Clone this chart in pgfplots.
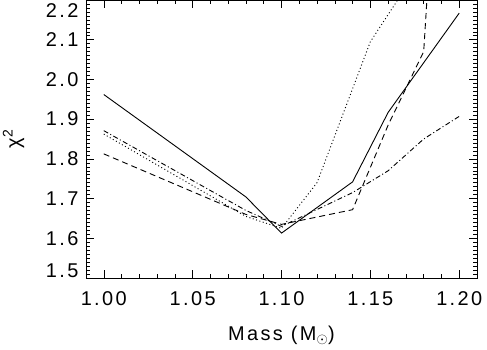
\documentclass[border=0pt]{standalone}
\usepackage{fontspec}
\setmainfont{Liberation Sans}[LetterSpace=12]
\usepackage{pgfplots}
\pgfplotsset{compat=1.18}

\begin{document}
\begin{tikzpicture}
\begin{axis}[
  scale only axis,
  width=391bp, height=278bp,
  xmin=0.99, xmax=1.21,
  ymin=1.5, ymax=2.2,
  xtick={1.00,1.05,1.10,1.15,1.20},
  ytick={1.5,1.6,1.7,1.8,1.9,2.0,2.1,2.2},
  minor x tick num=4,
  minor y tick num=9,
  tick align=inside,
  major tick length=8bp,
  minor tick length=4bp,
  every tick/.style={black, line width=0.5bp},
  axis line style={line width=0.8bp},
  font=\fontsize{20}{22}\selectfont,
  /pgf/number format/assume math mode=true,
  xticklabel={\pgfmathprintnumber[fixed,fixed zerofill,precision=2]{\tick}},
  yticklabel={\pgfmathprintnumber[fixed,fixed zerofill,precision=1]{\tick}},
  xticklabel style={yshift=-10bp},
  yticklabel style={xshift=-4bp, yshift={ifthenelse(\ticknum==0,7,ifthenelse(\ticknum==7,-11,0))}},
  xlabel={Mass (M$_\odot$)},
  xlabel style={yshift=-14bp},
  ylabel={χ\textsuperscript{2}},
  ylabel style={yshift=15bp},
  every axis plot/.append style={black, line width=0.9bp, no markers},
]
% solid
\addplot[solid] coordinates {
  (1.00,1.962) (1.08,1.704) (1.10,1.613) (1.14,1.742) (1.16,1.917) (1.20,2.167)
};
% dashed
\addplot[dash pattern=on 6bp off 4bp] coordinates {
  (1.00,1.8125) (1.08,1.660) (1.10,1.635) (1.14,1.672) (1.16,1.885) (1.18,2.070) (1.20,3.500)
};
% dotted
\addplot[dash pattern=on 1bp off 2.5bp] coordinates {
  (1.00,1.8625) (1.08,1.655) (1.10,1.625) (1.12,1.740) (1.15,2.095) (1.18,2.300)
};
% dash-dot
\addplot[dash pattern=on 5bp off 2.5bp on 1bp off 2.5bp] coordinates {
  (1.00,1.871) (1.08,1.670) (1.10,1.630) (1.14,1.715) (1.16,1.770) (1.18,1.850) (1.20,1.907)
};
\end{axis}
\pgfresetboundingbox
\path ([xshift=-86bp,yshift=-72bp]current axis.south west) rectangle ([xshift=10bp]current axis.north east);
\end{tikzpicture}
\end{document}
